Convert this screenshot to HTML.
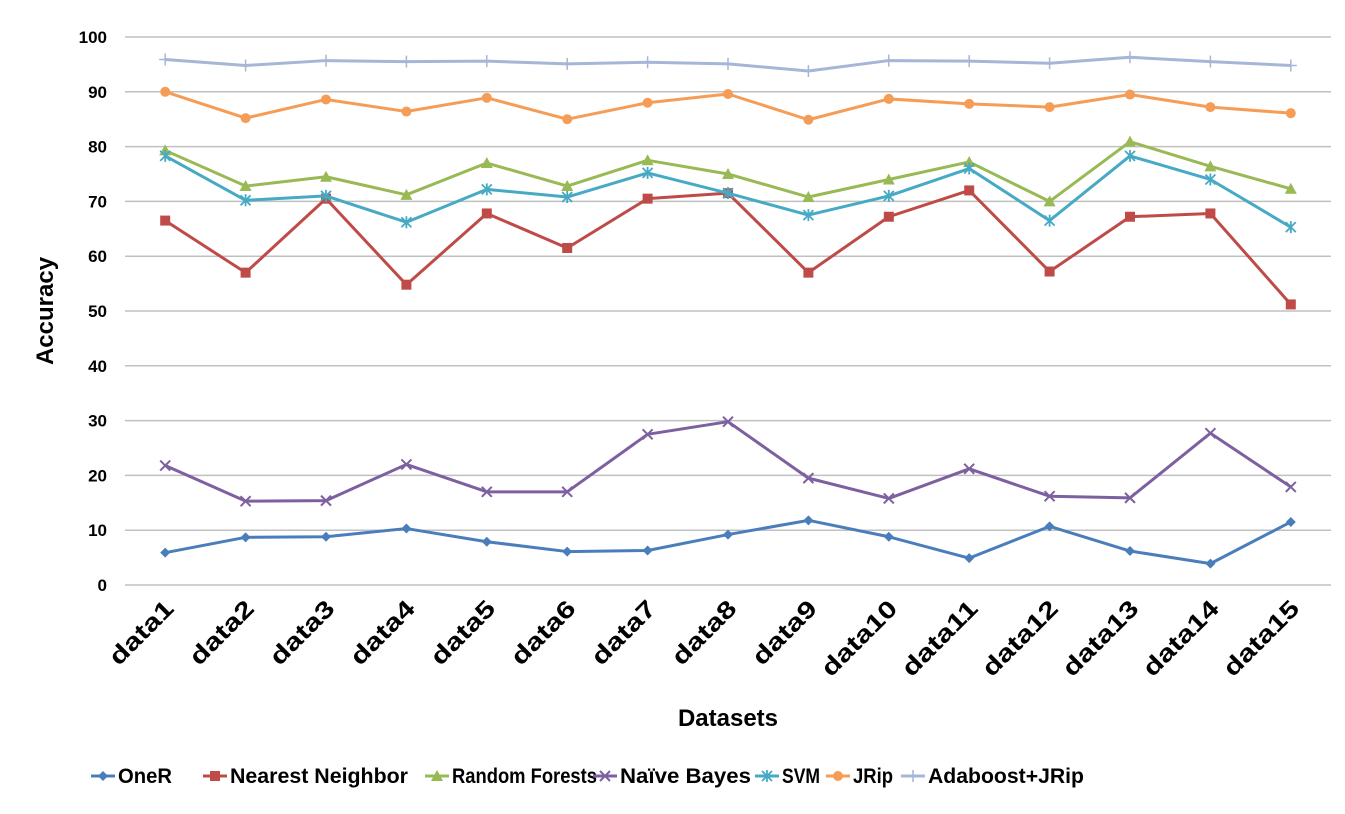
<!DOCTYPE html>
<html><head><meta charset="utf-8"><style>
html,body{margin:0;padding:0;background:#fff;}
svg text{font-family:"Liberation Sans",sans-serif;font-weight:bold;fill:#000;}
</style></head><body>
<svg id="chart" width="1345" height="809" xmlns="http://www.w3.org/2000/svg">
<g id="grid"></g>
<g id="yticks"></g>
<g id="xticks"></g>
<g id="series"></g>
<text x="0" y="0" font-size="24" text-anchor="middle" transform="translate(53,311) rotate(-90)">Accuracy</text>
<text x="728" y="726" font-size="24" text-anchor="middle">Datasets</text>
<g id="legend"></g>
</svg>
<script>
const categories=["data1","data2","data3","data4","data5","data6","data7","data8","data9","data10","data11","data12","data13","data14","data15"];
const yTicks=[0,10,20,30,40,50,60,70,80,90,100];
const seriesNames=["OneR","Nearest Neighbor","Random Forests","Naïve Bayes","SVM","JRip","Adaboost+JRip"];
const oneR=[5.9,8.7,8.8,10.3,7.9,6.1,6.3,9.2,11.8,8.8,4.9,10.7,6.2,3.9,11.5];
const nearestNeighbor=[66.5,57,70.5,54.8,67.8,61.5,70.5,71.5,57,67.2,72,57.2,67.2,67.8,51.2];
const randomForests=[79.3,72.8,74.5,71.2,77,72.8,77.5,75,70.8,74,77.2,70,80.9,76.4,72.3];
const naiveBayes=[21.8,15.3,15.4,22,17,17,27.5,29.8,19.5,15.8,21.2,16.2,15.9,27.7,17.9];
const svm=[78.3,70.2,71,66.2,72.2,70.8,75.2,71.5,67.5,71,76,66.5,78.3,74,65.3];
const jrip=[90,85.2,88.6,86.4,88.9,85,88,89.6,84.9,88.7,87.8,87.2,89.5,87.2,86.1];
const adaboost=[95.9,94.8,95.7,95.5,95.6,95.1,95.4,95.1,93.8,95.7,95.6,95.2,96.3,95.5,94.8];

const NS="http://www.w3.org/2000/svg";
const L=125,R=1331,T=37,B=585;
const step=(R-L)/categories.length;
const xPos=i=>L+step*(i+0.5);
const yPos=v=>B-(v/100)*(B-T);
function mk(tag,attrs,parent){const e=document.createElementNS(NS,tag);for(const k in attrs)e.setAttribute(k,attrs[k]);parent.appendChild(e);return e;}
const grid=document.getElementById('grid'),yt=document.getElementById('yticks'),xt=document.getElementById('xticks'),sg=document.getElementById('series'),lg=document.getElementById('legend');
yTicks.forEach(v=>{
  const ln=mk('line',{x1:L,x2:R,y1:yPos(v),y2:yPos(v),stroke:'#c0c0c0','stroke-width':1.5},grid);
  
  
  const t=mk('text',{x:107,y:yPos(v)+6,'font-size':17,'text-anchor':'end'},yt);
  t.textContent=v;
  
  
});
categories.forEach((c,i)=>{
  const x=xPos(i)+10,y=610;
  const len=c.length>5?96:80;
  const t=mk('text',{x:0,y:0,'font-size':24,'text-anchor':'end',textLength:len,lengthAdjust:'spacingAndGlyphs',transform:`translate(${x},${y}) rotate(-45)`},xt);
  t.textContent=c;
  
  
});
const colors=['#4a7ebb','#be4b48','#98b954','#7d60a0','#46aac5','#f59d56','#a5b6d8'];
const markers=['diamond','square','triangle','x','star','circle','plus'];
const data=[oneR,nearestNeighbor,randomForests,naiveBayes,svm,jrip,adaboost];
function marker(type,x,y,c,g){
  if(type==='diamond')return mk('polygon',{points:`${x},${y-5} ${x+5},${y} ${x},${y+5} ${x-5},${y}`,fill:c},g);
  if(type==='square')return mk('rect',{x:x-5,y:y-5,width:10,height:10,fill:c},g);
  if(type==='triangle')return mk('polygon',{points:`${x},${y-6} ${x+6},${y+5} ${x-6},${y+5}`,fill:c},g);
  if(type==='circle')return mk('circle',{cx:x,cy:y,r:5,fill:c},g);
  if(type==='x')return mk('path',{d:`M${x-5} ${y-5}L${x+5} ${y+5}M${x+5} ${y-5}L${x-5} ${y+5}`,stroke:c,'stroke-width':2,fill:'none'},g);
  if(type==='star')return mk('path',{d:`M${x-5} ${y-5}L${x+5} ${y+5}M${x+5} ${y-5}L${x-5} ${y+5}M${x} ${y-6}L${x} ${y+6}`,stroke:c,'stroke-width':1.8,fill:'none'},g);
  return mk('path',{d:`M${x-6} ${y}L${x+6} ${y}M${x} ${y-6}L${x} ${y+6}`,stroke:c,'stroke-width':1.5,fill:'none'},g);
}
data.forEach((arr,s)=>{
  const g=mk('g',{},sg);
  
  
  const pts=arr.map((v,i)=>xPos(i)+','+yPos(v)).join(' ');
  const pl=mk('polyline',{points:pts,fill:'none',stroke:colors[s],'stroke-width':3,'stroke-linejoin':'round'},g);
  
  
  arr.forEach((v,i)=>{
    const m=marker(markers[s],xPos(i),yPos(v),colors[s],g);
    
    
  });
});
const legText=[118,230,452,620,782,853,928];
const legW=[54,178,145,131,38,40,156];
seriesNames.forEach((n,s)=>{
  const g=mk('g',{},lg);
  
  
  const tx=legText[s],y=776,x=tx-27;
  mk('line',{x1:x,x2:x+24,y1:y,y2:y,stroke:colors[s],'stroke-width':3},g);
  marker(markers[s],x+12,y,colors[s],g);
  const t=mk('text',{x:tx,y:y+7,'font-size':21,textLength:legW[s],lengthAdjust:'spacingAndGlyphs'},g);
  t.textContent=n;
});
</script>
</body></html>
